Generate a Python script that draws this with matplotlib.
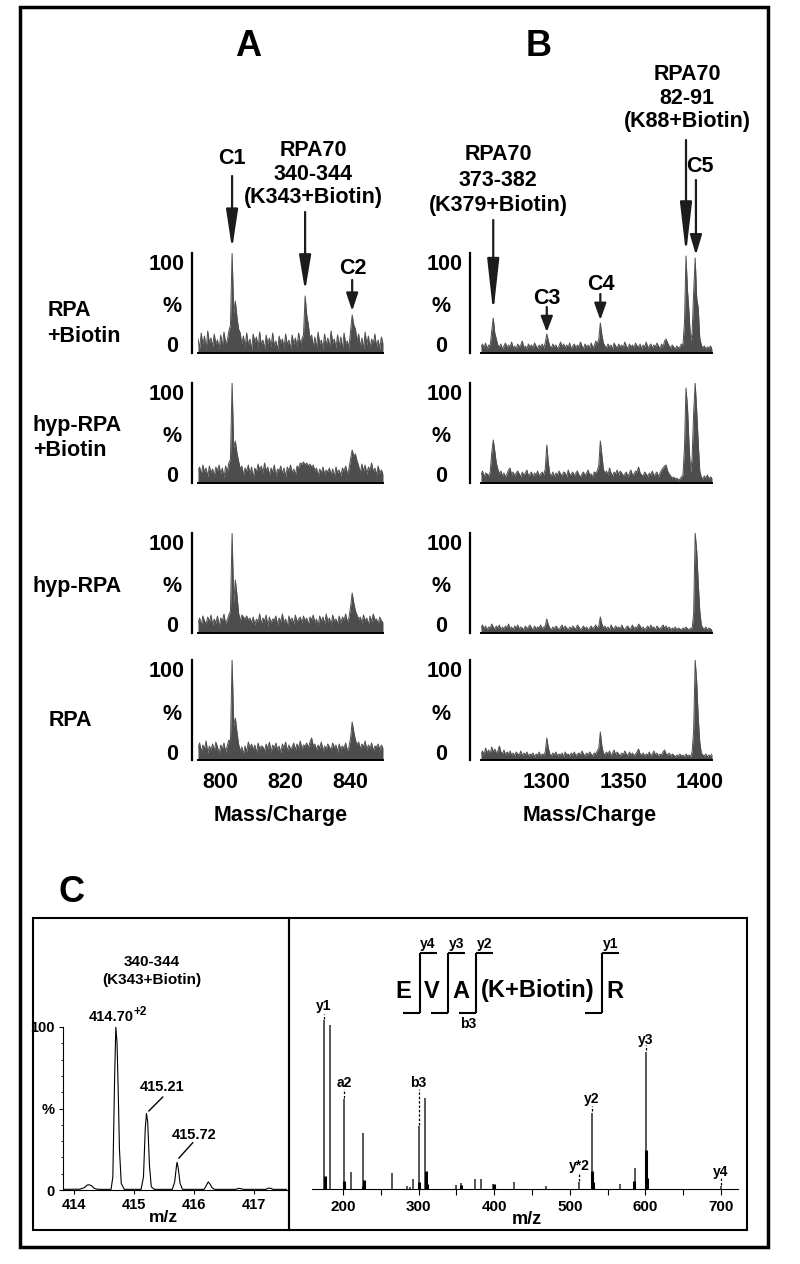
import numpy as np
import matplotlib
matplotlib.use("Agg")
import matplotlib.pyplot as plt
from matplotlib.patches import Rectangle
from matplotlib.lines import Line2D

plt.rcParams["font.family"] = ["Liberation Sans", "DejaVu Sans"]
plt.rcParams["font.weight"] = "bold"

W, H = 800, 1264

# ---------------- panel A: m/z 793..850, 0.5 steps ----------------
a_start, a_step = 793.0, 0.5
a_rpa_biotin = [14, 5, 20, 8, 17, 3, 22, 10, 15, 6,
                19, 9, 13, 4, 18, 7, 21, 10, 12, 22,
                28, 100, 40, 52, 36, 24, 20, 9, 17, 6,
                20, 8, 14, 3, 19, 11, 16, 5, 21, 8,
                13, 4, 18, 9, 15, 6, 20, 7, 12, 3,
                17, 10, 14, 5, 19, 8, 13, 4, 18, 9,
                15, 6, 20, 10, 14, 18, 57, 38, 28, 14,
                18, 6, 16, 5, 21, 9, 13, 4, 19, 8,
                15, 6, 22, 10, 14, 5, 18, 7, 16, 4,
                20, 9, 12, 5, 22, 38, 28, 24, 12, 19,
                6, 15, 4, 21, 8, 17, 5, 14, 9, 19,
                6, 13, 4, 16, 10]
a_hyp_biotin = [12, 16, 8, 18, 11, 15, 6, 17, 10, 14,
                7, 16, 12, 18, 9, 15, 5, 17, 11, 20,
                24, 100, 35, 42, 30, 22, 14, 17, 8, 15,
                12, 18, 9, 16, 5, 15, 11, 19, 13, 17,
                10, 20, 12, 16, 8, 15, 11, 18, 7, 14,
                12, 17, 9, 15, 6, 16, 12, 18, 10, 14,
                8, 17, 15, 20, 19, 21, 18, 20, 17, 19,
                16, 18, 12, 15, 7, 14, 10, 16, 9, 13,
                11, 15, 8, 14, 6, 16, 10, 13, 7, 15,
                12, 17, 9, 14, 24, 33, 27, 29, 22, 17,
                10, 19, 12, 18, 9, 16, 13, 20, 11, 15,
                8, 17, 10, 13, 9]
a_hyp = [10, 15, 7, 17, 12, 9, 16, 11, 18, 8,
         14, 10, 17, 6, 15, 12, 19, 9, 13, 18,
         22, 100, 30, 53, 38, 20, 12, 18, 16, 14,
         17, 13, 15, 10, 16, 8, 14, 11, 19, 9,
         15, 12, 18, 7, 16, 10, 14, 13, 17, 8,
         15, 11, 19, 10, 14, 6, 17, 12, 15, 9,
         18, 11, 14, 16, 10, 17, 12, 15, 8, 16,
         13, 18, 10, 14, 7, 17, 12, 16, 9, 19,
         11, 15, 8, 18, 12, 14, 9, 17, 10, 16,
         13, 19, 11, 15, 26, 40, 30, 22, 18, 14,
         16, 10, 18, 12, 15, 8, 17, 11, 19, 13,
         14, 9, 16, 12, 11]
a_rpa = [12, 17, 8, 15, 11, 19, 7, 14, 10, 16,
         9, 18, 13, 6, 15, 11, 17, 8, 14, 20,
         18, 100, 34, 42, 28, 16, 9, 13, 6, 14,
         8, 18, 12, 16, 10, 15, 7, 17, 11, 14,
         13, 9, 16, 11, 18, 8, 15, 12, 17, 10,
         14, 7, 16, 12, 18, 9, 15, 11, 13, 17,
         10, 16, 12, 19, 11, 15, 14, 17, 12, 18,
         22, 14, 16, 10, 15, 12, 18, 9, 14, 11,
         16, 13, 10, 17, 12, 15, 8, 16, 11, 14,
         12, 17, 9, 13, 22, 38, 28, 20, 15, 18,
         11, 16, 13, 19, 10, 15, 12, 17, 9, 14,
         13, 16, 10, 15, 12]

# ---------------- panel B: m/z 1257..1408, 1.0 steps ----------------
b_start, b_step = 1257.0, 1.0
b_rpa_biotin = [6, 9, 5, 10, 4, 8, 7, 22, 35, 20,
                14, 8, 6, 9, 4, 7, 10, 5, 8, 6,
                11, 5, 7, 4, 9, 6, 8, 12, 5, 7,
                4, 9, 6, 8, 5, 10, 7, 4, 8, 6,
                9, 5, 10, 19, 12, 7, 5, 9, 6, 8,
                4, 7, 11, 6, 9, 5, 8, 6, 10, 4,
                7, 9, 5, 8, 6, 11, 7, 4, 9, 6,
                8, 5, 10, 6, 7, 12, 9, 14, 30, 18,
                10, 7, 5, 9, 6, 8, 4, 10, 7, 5,
                9, 6, 8, 5, 11, 7, 4, 9, 6, 8,
                5, 10, 7, 6, 9, 4, 8, 6, 11, 5,
                7, 9, 5, 8, 6, 10, 7, 4, 9, 6,
                12, 14, 10, 7, 5, 8, 6, 4, 7, 5,
                6, 9, 8, 30, 97, 62, 40, 12, 20, 60,
                95, 55, 45, 15, 8, 5, 7, 4, 6, 5,
                7, 4]
b_hyp_biotin = [8, 12, 6, 10, 9, 7, 11, 30, 43, 32,
                20, 14, 9, 12, 7, 10, 6, 9, 13, 15,
                8, 11, 7, 10, 12, 9, 6, 11, 8, 10,
                13, 7, 9, 11, 6, 10, 8, 12, 7, 9,
                11, 8, 14, 38, 20, 9, 7, 11, 6, 10,
                8, 12, 9, 7, 11, 10, 6, 13, 8, 9,
                11, 7, 10, 12, 8, 6, 9, 11, 7, 10,
                13, 8, 9, 6, 11, 10, 12, 18, 42, 28,
                14, 9, 12, 8, 15, 10, 7, 11, 9, 13,
                8, 12, 10, 7, 9, 11, 6, 10, 13, 8,
                9, 12, 11, 16, 10, 8, 7, 11, 9, 6,
                10, 8, 12, 7, 9, 11, 6, 10, 13, 15,
                17, 18, 12, 9, 7, 5, 6, 4, 5, 3,
                4, 6, 8, 35, 95, 75, 38, 10, 25, 70,
                100, 72, 40, 12, 6, 4, 7, 5, 8, 4,
                6, 5]
b_hyp = [5, 8, 4, 7, 3, 6, 5, 9, 6, 4,
         7, 5, 8, 3, 6, 4, 7, 5, 9, 4,
         6, 3, 7, 5, 8, 4, 6, 5, 3, 7,
         4, 6, 8, 5, 3, 7, 4, 6, 5, 8,
         4, 6, 7, 14, 8, 5, 3, 6, 4, 7,
         5, 3, 6, 8, 4, 7, 5, 3, 6, 4,
         7, 5, 4, 8, 6, 3, 5, 7, 4, 6,
         3, 5, 7, 4, 6, 8, 5, 7, 16, 9,
         5, 7, 4, 6, 3, 8, 5, 4, 7, 5,
         6, 4, 8, 5, 3, 6, 7, 4, 5, 8,
         4, 6, 5, 9, 7, 4, 6, 3, 5, 7,
         4, 8, 5, 6, 3, 7, 5, 4, 6, 8,
         5, 7, 4, 6, 3, 5, 4, 6, 3, 5,
         4, 3, 5, 4, 6, 4, 3, 5, 4, 20,
         100, 82, 50, 22, 8, 5, 4, 6, 3, 5,
         4, 3]
b_rpa = [6, 9, 5, 12, 7, 10, 6, 13, 8, 11,
         7, 9, 14, 8, 6, 10, 5, 8, 6, 9,
         5, 7, 4, 8, 6, 5, 9, 4, 7, 5,
         8, 4, 6, 5, 7, 3, 6, 5, 8, 4,
         6, 5, 8, 22, 12, 6, 4, 7, 5, 8,
         4, 6, 5, 7, 3, 8, 5, 6, 4, 7,
         5, 8, 4, 6, 7, 5, 9, 6, 4, 7,
         5, 8, 6, 4, 7, 6, 9, 12, 28, 14,
         7, 5, 8, 6, 9, 4, 7, 10, 5, 8,
         6, 4, 7, 5, 9, 6, 4, 8, 5, 7,
         4, 6, 8, 11, 6, 5, 7, 4, 6, 5,
         8, 4, 6, 9, 5, 7, 4, 6, 5, 8,
         10, 6, 5, 7, 4, 6, 5, 3, 5, 4,
         6, 4, 5, 3, 6, 4, 5, 3, 8, 30,
         100, 78, 42, 18, 7, 5, 4, 6, 3, 5,
         4, 6]

a_rows = [a_rpa_biotin, a_hyp_biotin, a_hyp, a_rpa]
b_rows = [b_rpa_biotin, b_hyp_biotin, b_hyp, b_rpa]
row_names = [["RPA", "+Biotin"], ["hyp-RPA", "+Biotin"], ["hyp-RPA"], ["RPA"]]
a_ticks = [800, 820, 840]
b_ticks = [1300, 1350, 1400]

# ---------------- panel C: MS of 340-344 and MS/MS ----------------
ms_mz = [413.82, 414.10, 414.18, 414.22, 414.26, 414.30, 414.34, 414.40,
         414.62, 414.65, 414.68, 414.70, 414.72, 414.74, 414.76, 414.79, 414.84,
         415.12, 415.16, 415.19, 415.21, 415.23, 415.26, 415.29, 415.34,
         415.64, 415.68, 415.71, 415.72, 415.74, 415.77, 415.81,
         416.17, 416.21, 416.24, 416.27, 416.30, 416.34,
         416.70, 416.74, 416.78, 416.82, 417.20, 417.24, 417.28, 417.32, 417.55]
ms_int = [0.4, 0.5, 1.5, 3, 3.2, 2.5, 1, 0.4,
          0.4, 8, 70, 100, 90, 60, 25, 4, 0.4,
          0.4, 8, 38, 47, 42, 15, 2, 0.4,
          0.4, 5, 15, 17, 13, 4, 0.4,
          0.4, 3, 5, 3.5, 1.5, 0.4,
          0.4, 1, 0.8, 0.4, 0.4, 1.2, 1, 0.4, 0.4]
ms_ticks = [414, 415, 416, 417]

msms_mz = [175, 183, 201, 211, 227, 265, 285, 288, 292.5, 300, 309, 350, 355.6,
           374.5, 383, 399, 426, 469, 512, 529, 567, 585.8, 600.5, 699.5]
msms_int = [100, 97, 53, 10, 33, 9.5, 1.6, 1, 6, 37, 54, 2.6, 3.5,
            6, 6, 3, 4, 2, 4, 45, 3, 12.4, 81, 2]
cluster_mz = [175.6, 201.6, 226.2, 227.8, 300.8, 309.8, 310.6, 356.2, 399.4,
              529.8, 530.8, 584.8, 600.9, 601.8]
cluster_int = [7.5, 4.5, 1.6, 5.5, 4, 10.5, 3, 2.5, 3,
               10.5, 4, 4.5, 23, 6.5]
ion_names = ["y1", "a2", "b3", "y2", "y*2", "y3", "y4"]
ion_mz = [175, 201, 300, 529, 512, 600.5, 699.5]
msms_ticks = [200, 300, 400, 500, 600, 700]

GREY = "#4d4d4d"

fig = plt.figure(figsize=(W / 100, H / 100), dpi=100)


def px_rect(x0, y0, x1, y1):
    return [x0 / W, 1 - y1 / H, (x1 - x0) / W, (y1 - y0) / H]


def ftext(x, y, s, size, **kw):
    kw.setdefault("ha", "center")
    kw.setdefault("va", "center")
    fig.text(x / W, 1 - y / H, s, fontsize=size, fontweight="bold", **kw)


def fline(xs, ys, lw=1.5):
    fig.add_artist(Line2D([x / W for x in xs], [1 - y / H for y in ys],
                          color="black", lw=lw, solid_capstyle="butt"))


def spectrum_axes(rect, start, step, vals, xlim, offset_px, ticks, last):
    ax = fig.add_axes(rect)
    mz = start + step * np.arange(len(vals))
    ax.fill_between(mz, 0, vals, color=GREY, lw=0)
    ax.plot(mz, vals, color=GREY, lw=0.7)
    ax.set_xlim(*xlim)
    ax.set_ylim(0, 100)
    for s in ("top", "right"):
        ax.spines[s].set_visible(False)
    ax.spines["left"].set_position(("outward", offset_px * 0.72))
    ax.spines["left"].set_linewidth(1.6)
    ax.spines["bottom"].set_linewidth(1.4)
    ax.set_yticks([])
    ax.set_xticks(ticks)
    ax.tick_params(axis="x", length=0, pad=9, labelsize=15.5)
    if not last:
        ax.set_xticklabels([])
    ax.patch.set_alpha(0)
    return ax


def arrow(ax, x, y0, y1, head_px):
    ax.annotate("", xy=(x, y1), xytext=(x, y0),
                arrowprops=dict(arrowstyle=f"-|>,head_length={head_px * 0.072:.2f},head_width=0.36",
                                mutation_scale=10, color="#1c1c1c", lw=1.6,
                                shrinkA=0, shrinkB=0),
                annotation_clip=False)


row_tops = [253, 383, 533, 660]
label_pos = [[(48, 310), (47, 336)], [(32, 426), (33, 451)], [(32, 587)], [(49, 720)]]
axes_a, axes_b = [], []
for r, top in enumerate(row_tops):
    last = r == len(row_tops) - 1
    axa = spectrum_axes(px_rect(198, top, 383, top + 100), a_start, a_step, a_rows[r],
                        (793, 850), 6, a_ticks, last)
    axb = spectrum_axes(px_rect(481, top, 712, top + 100), b_start, b_step, b_rows[r],
                        (1257, 1408), 11, b_ticks, last)
    axes_a.append(axa)
    axes_b.append(axb)
    for (x, y), s in zip(label_pos[r], row_names[r]):
        ftext(x, y, s, 15.5, ha="left")
    for right, mid in ((185, 172), (463, 441)):
        ftext(right, top + 12, "100", 15.5, ha="right")
        ftext(mid, top + 54, "%", 15.5)
        ftext(mid, top + 94, "0", 15.5)

ftext(248, 46, "A", 26)
ftext(539, 46, "B", 26)
ftext(281, 815, "Mass/Charge", 15.5)
ftext(590, 815, "Mass/Charge", 15.5)

# arrows and peak labels, top row
ax1a, ax1b = axes_a[0], axes_b[0]
arrow(ax1a, 803.5, 177, 104, 33)
arrow(ax1a, 826, 141, 62, 30)
arrow(ax1a, 840.5, 73, 42, 15)
ftext(232, 159, "C1", 15.5)
for y, s in zip((151, 174, 197), ("RPA70", "340-344", "(K343+Biotin)")):
    ftext(313, y, s, 15.5)
ftext(353, 268, "C2", 15.5)

arrow(ax1b, 1265, 133, 40, 45)
arrow(ax1b, 1300, 46, 21, 13)
arrow(ax1b, 1335, 59, 33, 14)
arrow(ax1b, 1391, 213, 99, 43)
arrow(ax1b, 1397.5, 173, 98, 17)
for y, s in zip((155, 180, 205), ("RPA70", "373-382", "(K379+Biotin)")):
    ftext(498, y, s, 15.5)
ftext(547, 298, "C3", 15.5)
ftext(601, 285, "C4", 15.5)
for y, s in zip((74, 98, 121), ("RPA70", "82-91", "(K88+Biotin)")):
    ftext(687, y, s, 15.5)
ftext(700, 167, "C5", 15.5)

# ---------------- panel C ----------------
ftext(72, 893, "C", 26)
fig.add_artist(Rectangle((33 / W, 1 - 1230 / H), (289 - 33) / W, (1230 - 918) / H,
                         transform=fig.transFigure, fill=False, lw=1.5, ec="black"))
fig.add_artist(Rectangle((289 / W, 1 - 1230 / H), (747 - 289) / W, (1230 - 918) / H,
                         transform=fig.transFigure, fill=False, lw=1.5, ec="black"))

axc = fig.add_axes(px_rect(63, 1027, 287, 1190))
axc.plot(ms_mz, ms_int, color="black", lw=0.8)
axc.set_xlim(413.82, 417.55)
axc.set_ylim(0, 100)
for s in ("top", "right"):
    axc.spines[s].set_visible(False)
axc.set_yticks([0, 50, 100])
axc.set_yticklabels(["0", "%", "100"])
axc.set_yticks(np.arange(0, 101, 10), minor=True)
axc.set_xticks(ms_ticks)
axc.tick_params(labelsize=10.5, length=3, width=0.8, pad=3)
axc.tick_params(which="minor", length=1.5, width=0.6)
axc.patch.set_alpha(0)
ftext(152, 962, "340-344", 11)
ftext(152, 980, "(K343+Biotin)", 11)
ftext(163, 1217, "m/z", 12.5)
axc.text(414.62, 106, "414.70", fontsize=10.5, fontweight="bold", ha="center", va="center")
axc.text(415.0, 109, "+2", fontsize=8.5, fontweight="bold", ha="left", va="center")
axc.plot([415.25, 415.48], [48.5, 57], color="black", lw=1)
axc.text(415.47, 63, "415.21", fontsize=10.5, fontweight="bold", ha="center", va="center")
axc.plot([415.75, 415.98], [19.6, 29], color="black", lw=1)
axc.text(416.0, 34, "415.72", fontsize=10.5, fontweight="bold", ha="center", va="center")
for t in axc.texts:
    t.set_clip_on(False)

axd = fig.add_axes(px_rect(312, 1020, 738, 1189))
axd.vlines(msms_mz, 0, msms_int, color="#2a2a2a", lw=1.1)
axd.vlines(cluster_mz, 0, cluster_int, color="black", lw=2.2)
axd.set_xlim(159, 722.5)
axd.set_ylim(0, 100)
for s in ("top", "right", "left"):
    axd.spines[s].set_visible(False)
axd.set_yticks([])
axd.set_xticks(msms_ticks)
axd.set_xticks([250, 350, 450, 550, 650], minor=True)
axd.tick_params(labelsize=11, length=4, width=0.8, pad=4)
axd.tick_params(which="minor", length=4, width=0.8)
axd.patch.set_alpha(0)
ftext(527, 1220, "m/z", 13)

label_y = [108, 63, 63, 53, 13.5, 88, 10]
dash_span = [(100.5, 103.5), (54, 59), (38, 59), (46, 49), (5, 9.5), (82, 85), (2.5, 6.5)]
for name, x, ly, (d0, d1) in zip(ion_names, ion_mz, label_y, dash_span):
    axd.plot([x, x], [d0, d1], color="black", lw=0.9, ls=(0, (2, 1.5)), clip_on=False)
    axd.text(x, ly, name, fontsize=10, fontweight="bold", ha="center", va="center",
             clip_on=False)

# fragment ladder E|V|A|(K+Biotin)|R
for x, s in zip((403, 432, 461, 538, 615), ("E", "V", "A", "(K+Biotin)", "R")):
    ftext(x, 991, s, 17)
for x in (420, 448, 476, 602):
    fline([x, x], [953, 1013])
    fline([x, x + 17], [953, 953])
    fline([x - 17, x], [1013, 1013])
for x, s in zip((428, 457, 485, 611), ("y4", "y3", "y2", "y1")):
    ftext(x, 944, s, 10)
ftext(468, 1024, "b3", 10)

# outer frame
fig.add_artist(Rectangle((20 / W, 1 - 1247 / H), (768 - 20) / W, (1247 - 7) / H,
                         transform=fig.transFigure, fill=False, lw=2.5, ec="black"))

fig.savefig("out.png", dpi=100, facecolor="white")
